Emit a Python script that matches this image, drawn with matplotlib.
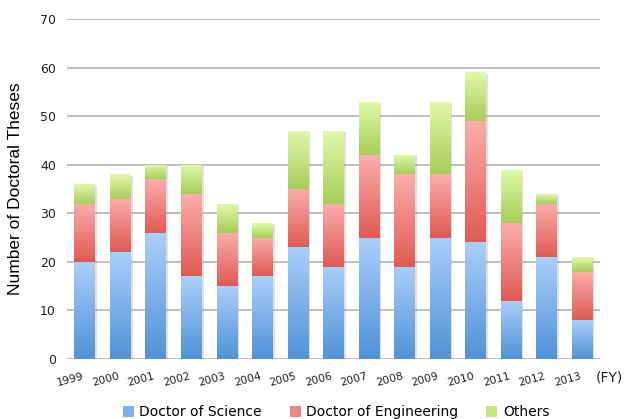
import matplotlib
matplotlib.use("Agg")
import matplotlib.pyplot as plt
import numpy as np
from matplotlib.colors import LinearSegmentedColormap
from matplotlib.patches import Patch
import matplotlib.patheffects as pe

years = ["1999", "2000", "2001", "2002", "2003", "2004", "2005", "2006",
         "2007", "2008", "2009", "2010", "2011", "2012", "2013"]
science = [20, 22, 26, 17, 15, 17, 23, 19, 25, 19, 25, 24, 12, 21, 8]
engineering = [12, 11, 11, 17, 11, 8, 12, 13, 17, 19, 13, 25, 16, 11, 10]
others = [4, 5, 3, 6, 6, 3, 12, 15, 11, 4, 15, 10, 11, 2, 3]
series_names = ["Doctor of Science", "Doctor of Engineering", "Others"]
yticks = [0, 10, 20, 30, 40, 50, 60, 70]

# (top colour, bottom colour, legend colour)
grads = [("#abcffb", "#4f92d7", "#7db2ee"),
         ("#fbaeab", "#df5a52", "#ee8580"),
         ("#e2f9aa", "#a6cd58", "#c5e37f")]

fig = plt.figure(figsize=(6.28, 4.19), dpi=100)
ax = fig.add_axes([0.1067, 0.1432, 0.8483, 0.8115])

x = np.arange(len(years))
width = 0.58
bottom = np.zeros(len(years))
grad_img = np.linspace(0, 1, 512).reshape(-1, 1)

for vals, (ctop, cbot, _) in zip([science, engineering, others], grads):
    cmap = LinearSegmentedColormap.from_list("g", [cbot, ctop], N=512)
    bars = ax.bar(x, vals, width=width, bottom=bottom, color="white",
                  edgecolor="none", zorder=3,
                  path_effects=[pe.SimplePatchShadow(offset=(1.5, -1), shadow_rgbFace="#999999", alpha=0.3),
                                pe.Normal()])
    for b in bars:
        x0, y0, w, h = b.get_x(), b.get_y(), b.get_width(), b.get_height()
        im = ax.imshow(grad_img, extent=[x0, x0 + w, y0, y0 + h], origin="lower",
                       cmap=cmap, aspect="auto", zorder=4, interpolation="bilinear")
        im.set_clip_path(b)
    bottom = bottom + np.array(vals)

ax.set_xlim(-0.5, len(years) - 0.5)
ax.set_ylim(0, 70)
ax.set_yticks(yticks)
ax.set_yticklabels([str(t) for t in yticks], fontsize=9, color="#222222")
ax.set_xticks(x)
ax.set_xticklabels(years, rotation=15, fontsize=7.8, color="#222222", ha="right")
ax.tick_params(axis="x", length=0, pad=9)
ax.tick_params(axis="y", length=0, pad=8)
for s in ax.spines.values():
    s.set_visible(False)
ax.yaxis.grid(True, color="#b3b3b3", linewidth=1.2, zorder=0)
ax.set_axisbelow(True)

ax.set_ylabel("Number of Doctoral Theses", fontsize=12.5, family="Liberation Sans", labelpad=12)
fig.text(0.948, 0.098, "(FY)", fontsize=10, ha="left", va="center", color="#222222")

handles = [Patch(facecolor=g[2], edgecolor="none") for g in grads]
fig.legend(handles, series_names, loc="lower center", bbox_to_anchor=(0.535, -0.03), ncol=3,
           frameon=False, fontsize=10, handlelength=0.8, handleheight=0.8,
           columnspacing=2.0, handletextpad=0.4)

fig.savefig("out.png", dpi=100)
